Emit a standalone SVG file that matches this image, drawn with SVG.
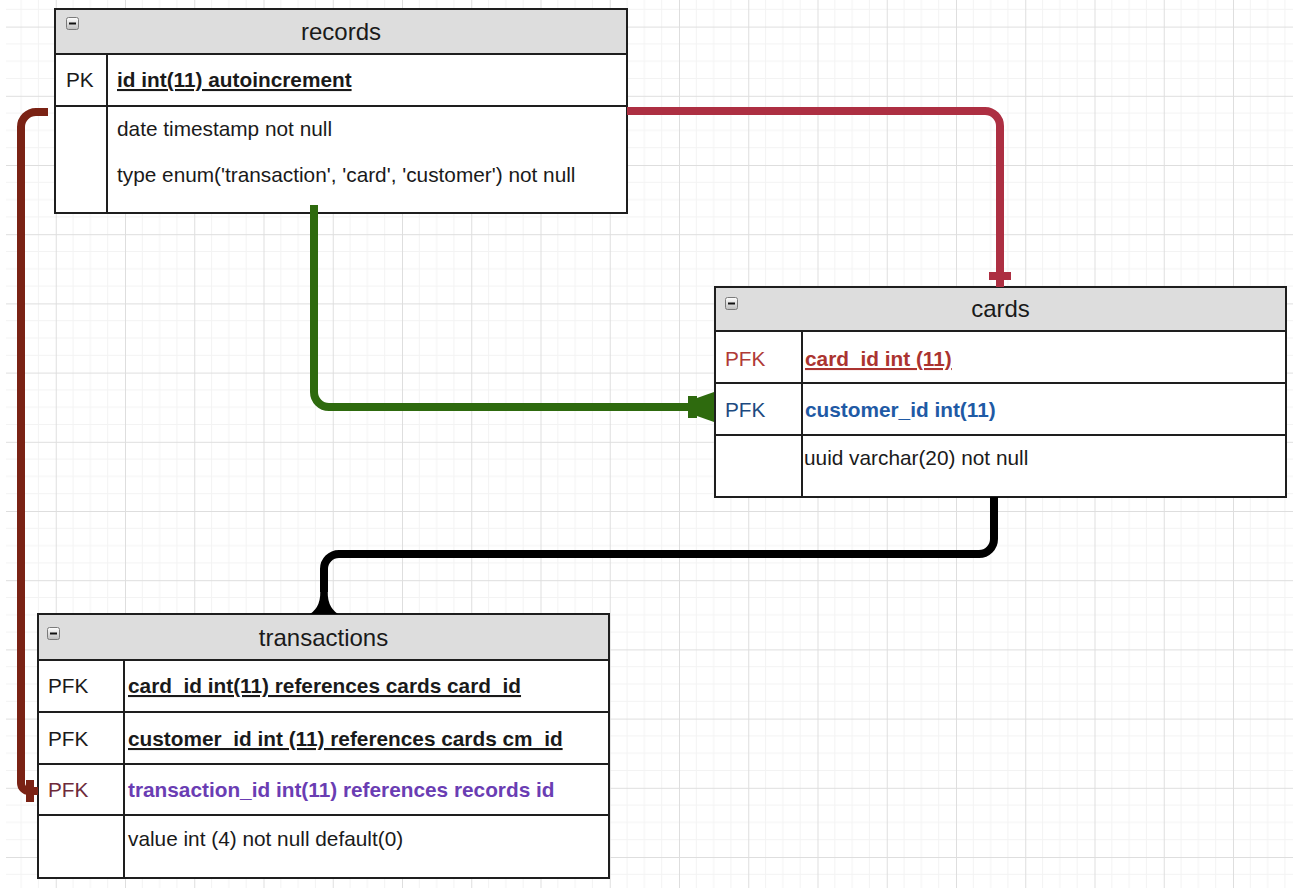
<svg xmlns="http://www.w3.org/2000/svg" width="1293" height="888" viewBox="0 0 1293 888">
  <defs>
    <!-- canvas grid: faint minor lines, darker major lines every fourth -->
    <pattern id="grid" x="55.75" y="26.6" width="69.25" height="69.2" patternUnits="userSpaceOnUse">
      <path d="M17.3 0V69.2M34.6 0V69.2M51.9 0V69.2M0 17.3H69.25M0 34.6H69.25M0 51.9H69.25" stroke="#f3f3f3" stroke-width="1" fill="none"/>
      <path d="M0.5 0V69.2M0 0.5H69.25" stroke="#dedede" stroke-width="1" fill="none"/>
    </pattern>
    <linearGradient id="btn" x1="0" y1="0" x2="0" y2="1">
      <stop offset="0" stop-color="#ffffff"/>
      <stop offset="1" stop-color="#bdbdbd"/>
    </linearGradient>
    <!-- collapse button drawn in each table header -->
    <g id="collapse">
      <rect x="0.5" y="0.5" width="12" height="12" rx="2" fill="url(#btn)" stroke="#7a7a7a" stroke-width="1"/>
      <rect x="3" y="5.5" width="7" height="2" fill="#111"/>
    </g>
  </defs>
  <style>
    .tbl { fill: #ffffff; stroke: #1e1e1e; stroke-width: 2; }
    .hdr { fill: #dddddd; stroke: #1e1e1e; stroke-width: 2; }
    .sep { stroke: #1e1e1e; stroke-width: 2; fill: none; }
    .title { font-family: "Liberation Sans", Arial, sans-serif; font-size: 24px; fill: #1a1a1a; text-anchor: middle; }
    .f { font-family: "Liberation Sans", Arial, sans-serif; font-size: 20.8px; fill: #1a1a1a; }
    .b { font-weight: bold; }
    .u { text-decoration: underline; }
    .link { fill: none; stroke-width: 8; stroke-linecap: butt; stroke-linejoin: round; }
  </style>

  <rect width="1293" height="888" fill="#ffffff"/>
  <rect x="6" y="0" width="1287" height="888" fill="url(#grid)"/>

  <!-- records -->
  <g id="records">
    <rect class="tbl" x="55" y="9" width="572" height="204"/>
    <rect class="hdr" x="55" y="9" width="572" height="45"/>
    <use href="#collapse" x="66" y="17"/>
    <text class="title" x="341" y="40">records</text>
    <path class="sep" d="M55 106H627M107 54V213"/>
    <text class="f" x="66" y="87">PK</text>
    <text class="f b u" x="117" y="87">id int(11) autoincrement</text>
    <text class="f" x="117" y="136">date timestamp not null</text>
    <text class="f" x="117" y="182">type enum('transaction', 'card', 'customer') not null</text>
  </g>

  <!-- cards -->
  <g id="cards">
    <rect class="tbl" x="715" y="287" width="571" height="210"/>
    <rect class="hdr" x="715" y="287" width="571" height="44"/>
    <use href="#collapse" x="725" y="297"/>
    <text class="title" x="1000.5" y="317">cards</text>
    <path class="sep" d="M715 383H1286M715 435H1286M802 331V497"/>
    <text class="f" x="725" y="366" style="fill:#b03a36">PFK</text>
    <text class="f b u" x="805" y="366" style="fill:#ab3330">card_id int (11)</text>
    <text class="f" x="725" y="417" style="fill:#1d4a80">PFK</text>
    <text class="f b" x="805" y="417" style="fill:#1f5aa5">customer_id int(11)</text>
    <text class="f" x="804" y="465">uuid varchar(20) not null</text>
  </g>

  <!-- transactions -->
  <g id="transactions">
    <rect class="tbl" x="38" y="614" width="571" height="264"/>
    <rect class="hdr" x="38" y="614" width="571" height="46"/>
    <use href="#collapse" x="47" y="627"/>
    <text class="title" x="323.5" y="646">transactions</text>
    <path class="sep" d="M38 712H609M38 764H609M38 815H609M124 660V878"/>
    <text class="f" x="48" y="693">PFK</text>
    <text class="f b u" x="128" y="693">card_id int(11) references cards card_id</text>
    <text class="f" x="48" y="746">PFK</text>
    <text class="f b u" x="128" y="746">customer_id int (11) references cards cm_id</text>
    <text class="f" x="48" y="797" style="fill:#6e2a3a">PFK</text>
    <text class="f b" x="128" y="797" style="fill:#6a3db3">transaction_id int(11) references records id</text>
    <text class="f" x="128" y="846">value int (4) not null default(0)</text>
  </g>

  <!-- relationships -->
  <g id="connectors">
    <!-- records -> cards.card_id -->
    <g id="link-records-cards">
      <path class="link" stroke="#ad2f42" d="M627 111H985A15 15 0 0 1 1000 126V287"/>
      <rect x="989" y="272" width="22" height="8" fill="#ad2f42"/>
    </g>
    <!-- records -> cards.customer_id -->
    <g id="link-records-customer">
      <path class="link" stroke="#2e6a0e" d="M314 205V392A15 15 0 0 0 329 407H700"/>
      <rect x="688" y="396" width="9" height="22" fill="#2e6a0e"/>
      <path d="M697 398L714 392V422L697 416Z" fill="#2e6a0e"/>
    </g>
    <!-- cards -> transactions -->
    <g id="link-cards-transactions">
      <path class="link" stroke="#000000" d="M994 497V539A15 15 0 0 1 979 554H339A15 15 0 0 0 324 569V592"/>
      <path d="M320 588Q322 606 310 614H338Q326 606 328 588Z" fill="#000000"/>
    </g>
    <!-- records -> transactions.transaction_id -->
    <g id="link-records-transactions">
      <path class="link" stroke="#7a2214" d="M48 112H36A15 15 0 0 0 21 127V783A8 8 0 0 0 29 791H38"/>
      <rect x="26" y="780" width="8" height="22" fill="#7a2214"/>
    </g>
  </g>
</svg>
